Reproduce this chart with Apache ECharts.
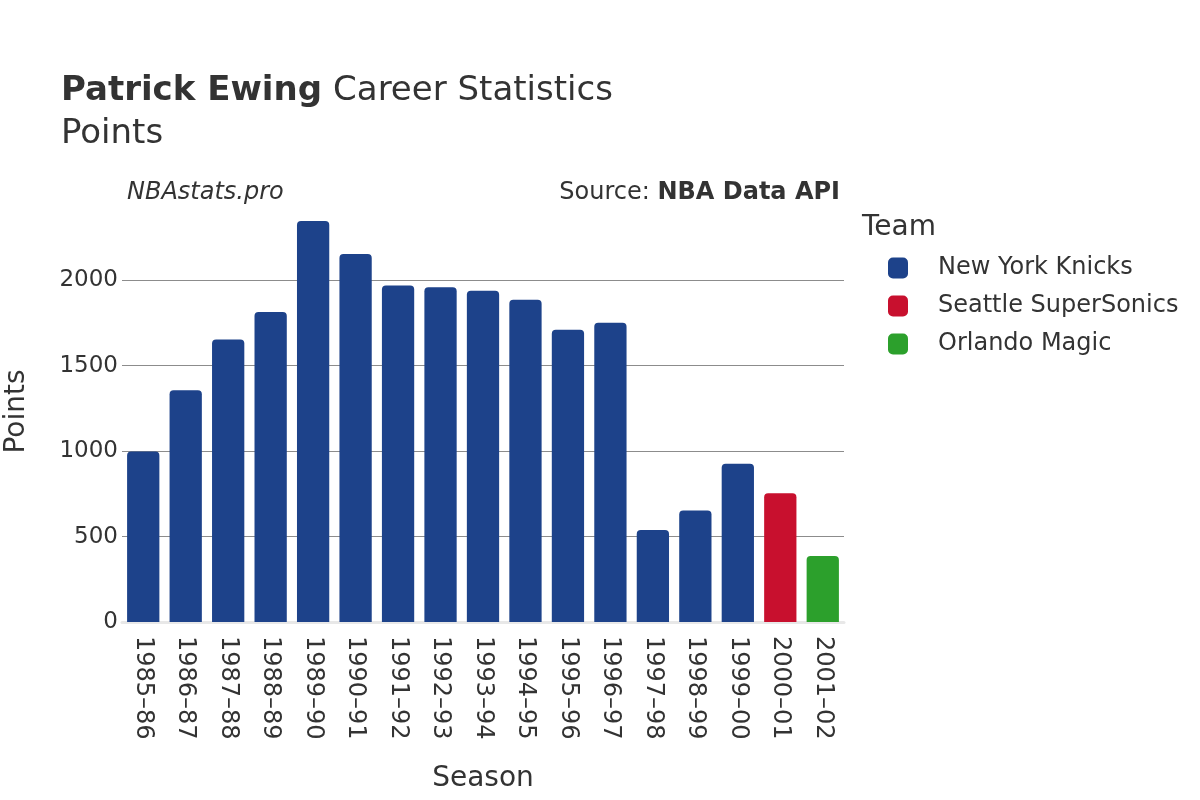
<!DOCTYPE html>
<html>
<head>
<meta charset="utf-8">
<script src="https://cdn.jsdelivr.net/npm/echarts@6/dist/echarts.min.js"></script>
<style>html,body{margin:0;padding:0;background:#fff}#c{width:1200px;height:800px}</style>
</head>
<body>
<div id="c"></div>
<script>
const seasons = ['1985–86','1986–87','1987–88','1988–89','1989–90','1990–91','1991–92','1992–93','1993–94','1994–95','1995–96','1996–97','1997–98','1998–99','1999–00','2000–01','2001–02'];
const knicksPts = [998,1356,1653,1815,2347,2154,1970,1959,1939,1886,1711,1751,538,653,926,'-','-'];
const sonicsPts = ['-','-','-','-','-','-','-','-','-','-','-','-','-','-','-',754,'-'];
const magicPts  = ['-','-','-','-','-','-','-','-','-','-','-','-','-','-','-','-',387];
const teams = ['New York Knicks','Seattle SuperSonics','Orlando Magic'];
const teamColors = ['#1d428a','#c8102e','#2ca02c'];
const yTicks = [0,500,1000,1500,2000];

const font = 'DejaVu Sans';
const chart = echarts.init(document.getElementById('c'));
const seriesData = [knicksPts, sonicsPts, magicPts];
chart.setOption({
  animation: false,
  textStyle: {fontFamily: font},
  title: [
    {text: '{b|Patrick Ewing}{s|}{n|Career Statistics}', left: 61, top: 74, padding: 0,
     textStyle: {fontWeight: 'normal', rich: {b: {fontFamily: font, fontSize: 34, fontWeight: 'bold', color: '#333'},
                        s: {width: 11, fontSize: 34},
                        n: {fontFamily: font, fontSize: 34, fontWeight: 'normal', color: '#333'}}}},
    {text: 'Points', left: 61, top: 117, padding: 0, textStyle: {fontFamily: font, fontSize: 34, fontWeight: 'normal', color: '#333'}},
    {text: 'NBAstats.pro', left: 127, top: 181, padding: 0, textStyle: {fontFamily: font, fontSize: 24, fontStyle: 'italic', fontWeight: 'normal', color: '#333'}},
    {text: '{n|Source: }{b|NBA Data API}', right: 360, top: 181, padding: 0,
     textStyle: {fontWeight: 'normal', rich: {b: {fontFamily: font, fontSize: 24, fontWeight: 'bold', color: '#333'},
                        n: {fontFamily: font, fontSize: 24, fontWeight: 'normal', color: '#333'}}}},
    {text: 'Team', left: 862, top: 214, padding: 0, textStyle: {fontFamily: font, fontSize: 28, fontWeight: 'normal', color: '#333'}}
  ],
  legend: {
    orient: 'vertical', left: 888, top: 256, padding: 0,
    itemWidth: 20, itemHeight: 21, itemGap: 14,
    icon: 'roundRect',
    data: teams,
    textStyle: {fontFamily: font, fontSize: 24, color: '#333', padding: [0, 0, 0, 25]}
  },
  grid: {left: 122, right: 356, top: 201, bottom: 178, containLabel: false, outerBoundsMode: 'none'},
  xAxis: {
    type: 'category', data: seasons,
    name: 'Season', nameLocation: 'middle', nameGap: 143,
    nameTextStyle: {fontFamily: font, fontSize: 28, color: '#333'},
    axisLine: {show: true, lineStyle: {color: '#e8e8e8', width: 3}},
    axisTick: {show: false},
    axisLabel: {rotate: -90, margin: 14, fontFamily: font, fontSize: 24, color: '#333'}
  },
  yAxis: {
    type: 'value', min: 0, max: 2464, interval: 500,
    name: 'Points', nameLocation: 'middle', nameGap: 91, nameRotate: 90,
    nameTextStyle: {fontFamily: font, fontSize: 28, color: '#333'},
    axisLine: {show: false}, axisTick: {show: false},
    axisLabel: {margin: 4, fontFamily: font, fontSize: 23, color: '#333',
      formatter: v => yTicks.includes(v) ? String(v) : ''},
    splitLine: {show: true, lineStyle: {color: ['transparent','#8c8c8c','#8c8c8c','#8c8c8c','#8c8c8c','transparent'], width: 1}}
  },
  series: teams.map((t, i) => ({
    name: t, type: 'bar', stack: 'pts', data: seriesData[i],
    barWidth: '76%',
    itemStyle: {color: teamColors[i], borderRadius: [4,4,0,0]}
  }))
});
</script>
</body>
</html>
